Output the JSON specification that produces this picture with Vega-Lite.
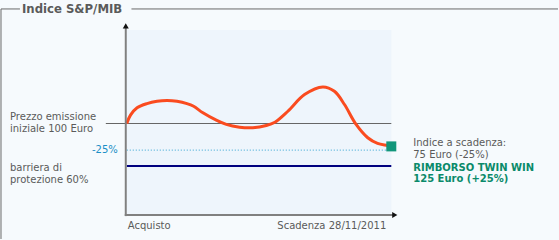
{
  "$schema": "https://vega.github.io/schema/vega-lite/v6.json",
  "width": 559,
  "height": 240,
  "autosize": {"type": "fit", "contains": "padding"},
  "padding": 0,
  "background": "#f6fafd",
  "config": {
    "view": {"stroke": null},
    "text": {"font": "DejaVu Sans", "fontSize": 10, "color": "#5a5a5a"}
  },
  "data": {"values": [{}]},
  "datasets": {
    "curve": [
      {"t": 0, "v": 100},
      {"t": 0.014, "v": 107.8},
      {"t": 0.0389, "v": 114.7},
      {"t": 0.0766, "v": 118.7},
      {"t": 0.1143, "v": 120.8},
      {"t": 0.1521, "v": 121.5},
      {"t": 0.1898, "v": 120.8},
      {"t": 0.2275, "v": 118.7},
      {"t": 0.2528, "v": 116.2},
      {"t": 0.2879, "v": 110.0},
      {"t": 0.3385, "v": 103.1},
      {"t": 0.3762, "v": 99.1},
      {"t": 0.4264, "v": 96.5},
      {"t": 0.4766, "v": 96.0},
      {"t": 0.5272, "v": 98.1},
      {"t": 0.5600, "v": 101.2},
      {"t": 0.609, "v": 111.5},
      {"t": 0.672, "v": 127.1},
      {"t": 0.741, "v": 134.3},
      {"t": 0.785, "v": 130.2},
      {"t": 0.823, "v": 117.8},
      {"t": 0.867, "v": 99.1},
      {"t": 0.911, "v": 86.6},
      {"t": 0.948, "v": 81.3},
      {"t": 0.986, "v": 79.4},
      {"t": 1, "v": 78.5}
    ]
  },
  "layer": [
    {
      "mark": {"type": "rect", "color": "#eef5fc"},
      "encoding": {
        "x": {"datum": 0, "type": "quantitative", "scale": {"domain": [-0.47925, 1.63019], "nice": false, "zero": false}, "axis": null},
        "x2": {"datum": 1},
        "y": {"datum": 14.95, "type": "quantitative", "scale": {"domain": [-8.411, 215.888], "nice": false, "zero": false}, "axis": null},
        "y2": {"datum": 187.85}
      }
    },
    {
      "mark": {"type": "rule", "color": "#6a6a6a", "strokeWidth": 1},
      "encoding": {
        "x": {"datum": -0.4755, "type": "quantitative"},
        "y": {"datum": 207.48, "type": "quantitative"},
        "y2": {"datum": -8.41}
      }
    },
    {
      "mark": {"type": "rule", "color": "#6a6a6a", "strokeWidth": 1},
      "encoding": {
        "x": {"datum": -0.4755, "type": "quantitative"},
        "x2": {"datum": -0.4038},
        "y": {"datum": 207.48, "type": "quantitative"}
      }
    },
    {
      "mark": {"type": "rule", "color": "#6a6a6a", "strokeWidth": 1},
      "encoding": {
        "x": {"datum": 0.0177, "type": "quantitative"},
        "x2": {"datum": 1.6302},
        "y": {"datum": 207.48, "type": "quantitative"}
      }
    },
    {
      "mark": {"type": "rule", "color": "#666666", "strokeWidth": 1.2},
      "encoding": {
        "x": {"datum": -0.0792, "type": "quantitative"},
        "x2": {"datum": 1},
        "y": {"datum": 100, "type": "quantitative"}
      }
    },
    {
      "mark": {"type": "rule", "color": "#2fa0d0", "strokeWidth": 1, "strokeDash": [1, 2]},
      "encoding": {
        "x": {"datum": 0, "type": "quantitative"},
        "x2": {"datum": 1},
        "y": {"datum": 75, "type": "quantitative"}
      }
    },
    {
      "mark": {"type": "rule", "color": "#00007f", "strokeWidth": 2},
      "encoding": {
        "x": {"datum": 0, "type": "quantitative"},
        "x2": {"datum": 1},
        "y": {"datum": 60, "type": "quantitative"}
      }
    },
    {
      "data": {"name": "curve"},
      "mark": {"type": "line", "interpolate": "catmull-rom", "color": "#fa4b1f", "strokeWidth": 3},
      "encoding": {
        "x": {"field": "t", "type": "quantitative"},
        "y": {"field": "v", "type": "quantitative"}
      }
    },
    {
      "mark": {"type": "rule", "color": "#808080", "strokeWidth": 2},
      "encoding": {
        "x": {"datum": -0.0038, "type": "quantitative"},
        "y": {"datum": 13.08, "type": "quantitative"},
        "y2": {"datum": 189.72}
      }
    },
    {
      "mark": {"type": "rule", "color": "#808080", "strokeWidth": 2},
      "encoding": {
        "x": {"datum": -0.0075, "type": "quantitative"},
        "x2": {"datum": 1.0075},
        "y": {"datum": 14.02, "type": "quantitative"}
      }
    },
    {
      "mark": {"type": "point", "shape": "triangle-up", "filled": true, "color": "#111111", "size": 36, "opacity": 1},
      "encoding": {
        "x": {"datum": -0.0038, "type": "quantitative"},
        "y": {"datum": 191.59, "type": "quantitative"}
      }
    },
    {
      "mark": {"type": "point", "shape": "triangle-right", "filled": true, "color": "#111111", "size": 36, "opacity": 1},
      "encoding": {
        "x": {"datum": 1.0132, "type": "quantitative"},
        "y": {"datum": 14.02, "type": "quantitative"}
      }
    },
    {
      "data": {"name": "curve"},
      "transform": [{"filter": "datum.t == 1"}],
      "mark": {"type": "point", "shape": "square", "filled": true, "color": "#11967a", "size": 100, "opacity": 1, "strokeWidth": 0},
      "encoding": {
        "x": {"field": "t", "type": "quantitative"},
        "y": {"field": "v", "type": "quantitative"}
      }
    },
    {
      "mark": {"type": "text", "text": "Indice S&P/MIB", "fontWeight": "bold", "fontSize": 11.7, "align": "left", "baseline": "middle", "color": "#5a5a5a"},
      "encoding": {
        "x": {"datum": -0.3962, "type": "quantitative"},
        "y": {"datum": 207.48, "type": "quantitative"}
      }
    },
    {
      "mark": {"type": "text", "text": "Prezzo emissione\niniziale 100 Euro", "lineBreak": "\n", "lineHeight": 12, "align": "left", "baseline": "middle", "dy": -6.5},
      "encoding": {
        "x": {"datum": -0.4415, "type": "quantitative"},
        "y": {"datum": 100, "type": "quantitative"}
      }
    },
    {
      "mark": {"type": "text", "text": "-25%", "align": "right", "baseline": "middle", "color": "#1b8fc6"},
      "encoding": {
        "x": {"datum": -0.034, "type": "quantitative"},
        "y": {"datum": 75, "type": "quantitative"}
      }
    },
    {
      "mark": {"type": "text", "text": "barriera di\nprotezione 60%", "lineBreak": "\n", "lineHeight": 11.5, "align": "left", "baseline": "middle", "dy": 2},
      "encoding": {
        "x": {"datum": -0.4415, "type": "quantitative"},
        "y": {"datum": 60, "type": "quantitative"}
      }
    },
    {
      "mark": {"type": "text", "text": "Indice a scadenza:\n75 Euro (-25%)", "lineBreak": "\n", "lineHeight": 12, "align": "left", "baseline": "middle", "dy": -6.75},
      "encoding": {
        "x": {"datum": 1.083, "type": "quantitative"},
        "y": {"datum": 75, "type": "quantitative"}
      }
    },
    {
      "mark": {"type": "text", "text": "RIMBORSO TWIN WIN\n125 Euro (+25%)", "lineBreak": "\n", "lineHeight": 11.5, "align": "left", "baseline": "middle", "fontWeight": "bold", "color": "#0a8a6a", "dy": 17.5},
      "encoding": {
        "x": {"datum": 1.083, "type": "quantitative"},
        "y": {"datum": 75, "type": "quantitative"}
      }
    },
    {
      "mark": {"type": "text", "text": "Acquisto", "align": "left", "baseline": "middle", "dx": 1, "dy": 11.3},
      "encoding": {
        "x": {"datum": 0, "type": "quantitative"},
        "y": {"datum": 14.02, "type": "quantitative"}
      }
    },
    {
      "mark": {"type": "text", "text": "Scadenza 28/11/2011", "align": "right", "baseline": "middle", "dx": -5, "dy": 11.3},
      "encoding": {
        "x": {"datum": 1, "type": "quantitative"},
        "y": {"datum": 14.02, "type": "quantitative"}
      }
    }
  ]
}
